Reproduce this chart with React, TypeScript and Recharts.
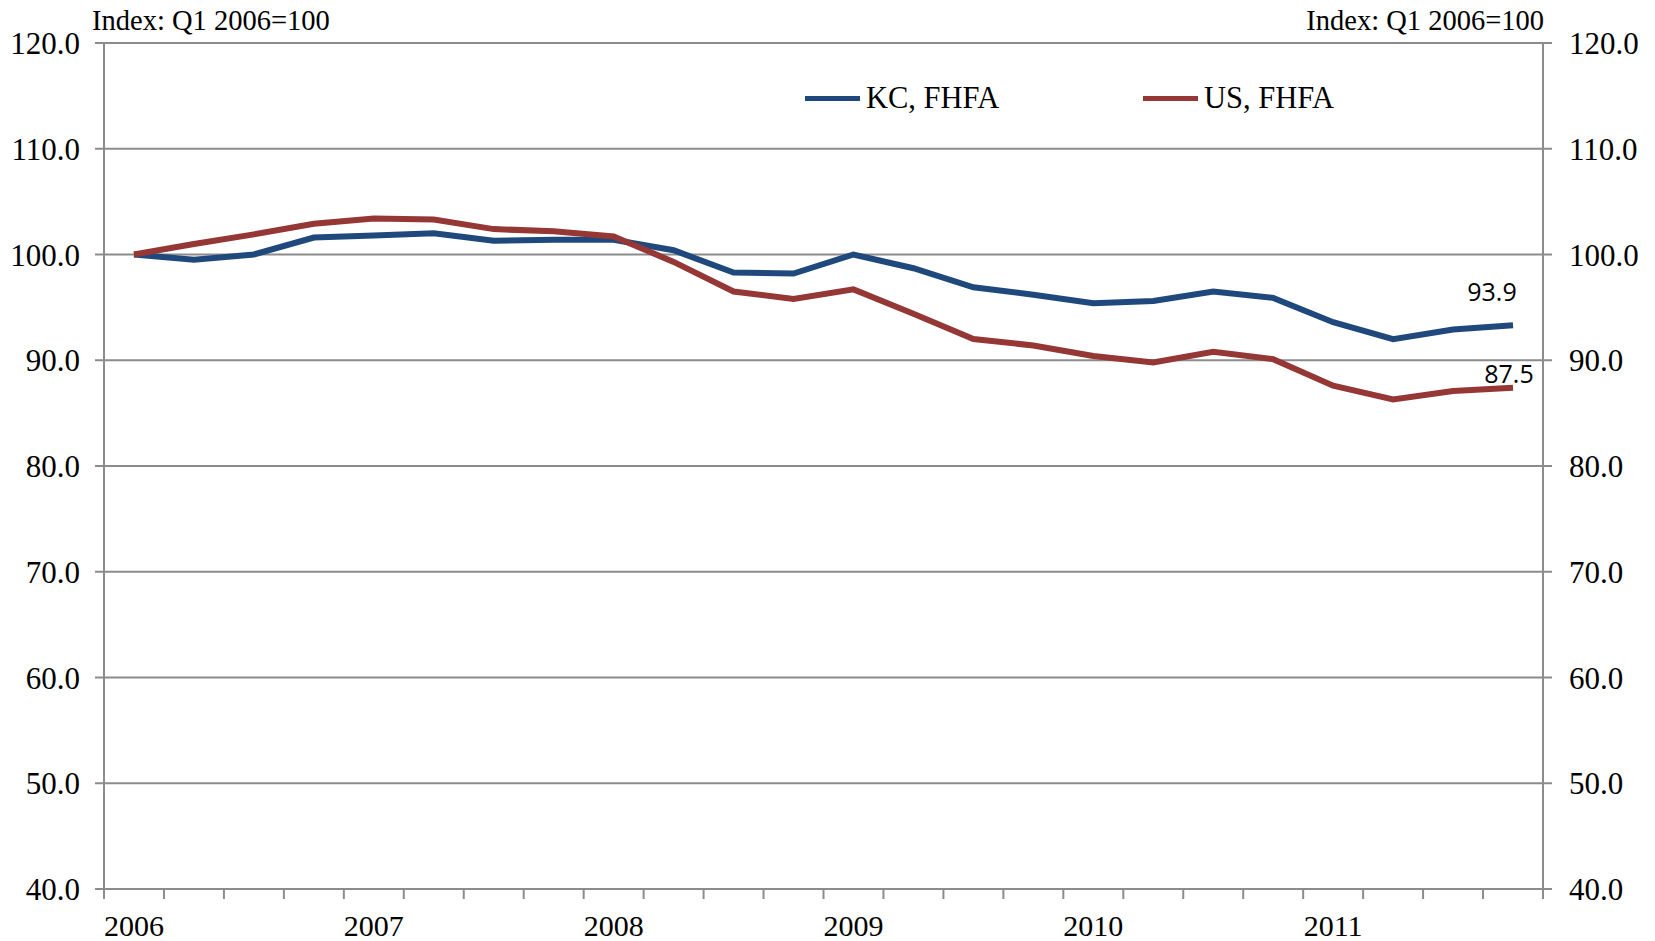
import React from "react";
import { LineChart, Line, XAxis, YAxis, CartesianGrid, Legend, LabelList } from "recharts";

const quarters = [
  "2006Q1", "2006Q2", "2006Q3", "2006Q4",
  "2007Q1", "2007Q2", "2007Q3", "2007Q4",
  "2008Q1", "2008Q2", "2008Q3", "2008Q4",
  "2009Q1", "2009Q2", "2009Q3", "2009Q4",
  "2010Q1", "2010Q2", "2010Q3", "2010Q4",
  "2011Q1", "2011Q2", "2011Q3", "2011Q4",
];

const kcFhfa = [
  100.0, 99.5, 100.0, 101.6, 101.8, 102.0, 101.3, 101.4,
  101.4, 100.4, 98.3, 98.2, 100.0, 98.7, 96.9, 96.2,
  95.4, 95.6, 96.5, 95.9, 93.6, 92.0, 92.9, 93.3,
];

const usFhfa = [
  100.0, 101.0, 101.9, 102.9, 103.4, 103.3, 102.4, 102.2,
  101.7, 99.3, 96.5, 95.8, 96.7, 94.4, 92.0, 91.4,
  90.4, 89.8, 90.8, 90.1, 87.6, 86.3, 87.1, 87.4,
];

const yTicks = [40, 50, 60, 70, 80, 90, 100, 110, 120];
const kcEndLabel = "93.9";
const usEndLabel = "87.5";
const axisTitle = "Index: Q1 2006=100";

const data = quarters.map((q, i) => ({ q, kc: kcFhfa[i], us: usFhfa[i] }));

const W = 1655;
const H = 941;
const LEFT_W = 104;
const RIGHT_W = 112;
const TOP = 43;
const X_H = 52;
const HALF_BAND = (W - LEFT_W - RIGHT_W) / quarters.length / 2;

const GRID = "#8c8c8c";
const BLUE = "#1f497d";
const RED = "#953735";
const SERIF = "'Liberation Serif', 'DejaVu Serif', serif";
const SANS = "'Open Sans', 'Liberation Sans', sans-serif";

const QuarterTick = (props: any) => {
  const { x, y, payload } = props;
  const v: string = payload.value;
  const isLast = v === quarters[quarters.length - 1];
  return (
    <g>
      <line x1={x - HALF_BAND} x2={x - HALF_BAND} y1={y} y2={y + 10} stroke={GRID} strokeWidth={2} />
      {isLast && <line x1={x + HALF_BAND} x2={x + HALF_BAND} y1={y} y2={y + 10} stroke={GRID} strokeWidth={2} />}
      {v.endsWith("Q1") && (
        <text x={x} y={y + 36} textAnchor="middle" dominantBaseline="central" fontFamily={SERIF} fontSize={30} fill="#000">
          {v.slice(0, 4)}
        </text>
      )}
    </g>
  );
};

const endLabel = (text: string, dx: number, dy: number) => (props: any) => {
  const { x, y, index } = props;
  if (index !== quarters.length - 1) return <g />;
  return (
    <text x={x + dx} y={y + dy} textAnchor="middle" dominantBaseline="central" fontFamily={SANS} fontSize={25} fill="#000">
      {text}
    </text>
  );
};

const LegendContent = () => (
  <div style={{ position: "relative", width: W, height: 40, fontFamily: SERIF, fontSize: 30.5, color: "#000" }}>
    {[
      { name: "KC, FHFA", color: BLUE, left: 805 },
      { name: "US, FHFA", color: RED, left: 1143 },
    ].map((it) => (
      <div key={it.name} style={{ position: "absolute", left: it.left, top: 0, display: "flex", alignItems: "center", height: 40 }}>
        <div style={{ width: 55, height: 5, background: it.color, marginRight: 6 }} />
        <span>{it.name}</span>
      </div>
    ))}
  </div>
);

export default function App() {
  const tickStyle = { fill: "#000", fontSize: 31, fontFamily: SERIF };
  return (
    <div style={{ position: "absolute", left: 0, top: 0, width: W, height: H, background: "#fff" }}>
      <LineChart width={W} height={H} data={data} margin={{ top: TOP, right: 0, bottom: 0, left: 0 }}>
        <CartesianGrid yAxisId="left" vertical={false} stroke={GRID} strokeWidth={2} />
        <XAxis
          dataKey="q"
          scale="band"
          interval={0}
          height={X_H}
          tickSize={0}
          tickMargin={0}
          tickLine={false}
          axisLine={{ stroke: GRID, strokeWidth: 2 }}
          tick={<QuarterTick />}
        />
        <YAxis
          yAxisId="left"
          orientation="left"
          width={LEFT_W}
          domain={[40, 120]}
          ticks={yTicks}
          interval={0}
          tickFormatter={(v: number) => v.toFixed(1)}
          tickSize={9}
          tickMargin={15}
          tick={tickStyle}
          tickLine={{ stroke: GRID, strokeWidth: 2 }}
          axisLine={{ stroke: GRID, strokeWidth: 2 }}
          label={{
            content: () => (
              <text x={92} y={20} fontFamily={SERIF} fontSize={28.5} fill="#000" dominantBaseline="central">
                {axisTitle}
              </text>
            ),
          }}
        />
        <YAxis
          yAxisId="right"
          orientation="right"
          width={RIGHT_W}
          domain={[40, 120]}
          ticks={yTicks}
          interval={0}
          tickFormatter={(v: number) => v.toFixed(1)}
          tickSize={9}
          tickMargin={17}
          tick={tickStyle}
          tickLine={{ stroke: GRID, strokeWidth: 2 }}
          axisLine={{ stroke: GRID, strokeWidth: 2 }}
          label={{
            content: () => (
              <text x={1544} y={20} textAnchor="end" fontFamily={SERIF} fontSize={28.5} fill="#000" dominantBaseline="central">
                {axisTitle}
              </text>
            ),
          }}
        />
        <Legend
          verticalAlign="middle"
          align="center"
          layout="horizontal"
          content={<LegendContent />}
          wrapperStyle={{ top: 78, left: 0, width: W }}
        />
        <Line
          yAxisId="left"
          dataKey="kc"
          name="KC, FHFA"
          stroke={BLUE}
          strokeWidth={6}
          dot={false}
          isAnimationActive={false}
        >
          <LabelList dataKey="kc" content={endLabel(kcEndLabel, -21, -34)} />
        </Line>
        <Line
          yAxisId="right"
          dataKey="us"
          name="US, FHFA"
          stroke={RED}
          strokeWidth={6}
          dot={false}
          isAnimationActive={false}
        >
          <LabelList dataKey="us" content={endLabel(usEndLabel, -4, -15)} />
        </Line>
      </LineChart>
    </div>
  );
}
